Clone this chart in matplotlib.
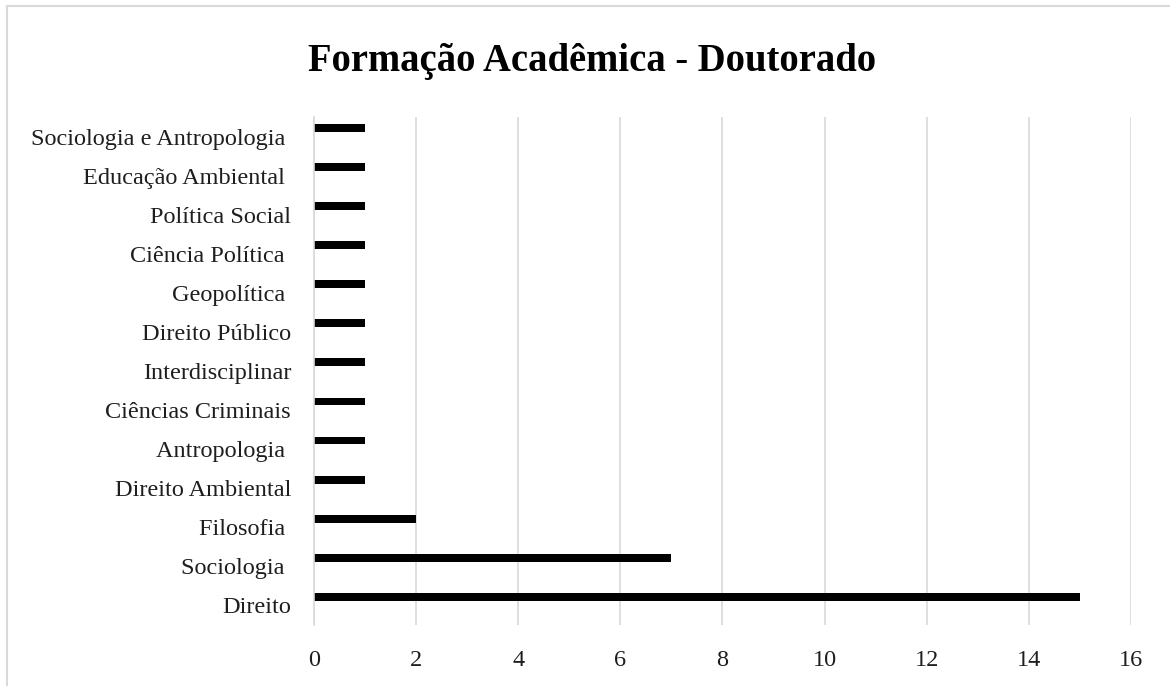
import numpy as np
import matplotlib
matplotlib.use("Agg")
import matplotlib.pyplot as plt
from matplotlib.patches import Rectangle

areas = ["Direito", "Sociologia ", "Filosofia ", "Direito Ambiental",
         "Antropologia ", "Ciências Criminais", "Interdisciplinar",
         "Direito Público", "Geopolítica ", "Ciência Política ",
         "Política Social", "Educação Ambiental ", "Sociologia e Antropologia "]
counts = [15, 7, 2, 1, 1, 1, 1, 1, 1, 1, 1, 1, 1]
xticks = [0, 2, 4, 6, 8, 10, 12, 14, 16]

plt.rcParams['font.family'] = ['Liberation Serif', 'DejaVu Serif']

fig = plt.figure(figsize=(11.7, 6.86), dpi=100)
ax = fig.add_axes([314 / 1170, 1 - 625 / 686, (1131 - 314) / 1170, (625 - 117) / 686])

pos = np.arange(len(areas))
ax.barh(pos + 0.22, counts, height=0.2, color="black")

ax.set_xlim(0, 16)
ax.set_ylim(-0.5, len(areas) - 0.5)
ax.set_xticks(xticks)
ax.set_yticks(pos)
ax.set_yticklabels(areas, fontsize=17.5, color="#1e1e1e")
ax.tick_params(axis="x", labelsize=17.5, colors="#1e1e1e", length=0, pad=18)
ax.tick_params(axis="y", length=0, pad=16.5)
ax.grid(axis="x", color="#d9d9d9", linewidth=1.2)
ax.set_axisbelow(True)
for s in ["top", "right", "bottom"]:
    ax.spines[s].set_visible(False)
ax.spines["left"].set_color("#d9d9d9")
ax.spines["left"].set_linewidth(1.2)

fig.text(592 / 1170, 1 - 62 / 686, "Formação Acadêmica - Doutorado",
         ha="center", va="center", fontsize=27.8, fontweight="bold")

fig.patches.append(Rectangle((7 / 1170, -0.1), 1.2, 1 - 6 / 686 + 0.1,
                             transform=fig.transFigure, fill=False,
                             edgecolor="#d9d9d9", linewidth=1.5))

fig.savefig("out.png", dpi=100)
